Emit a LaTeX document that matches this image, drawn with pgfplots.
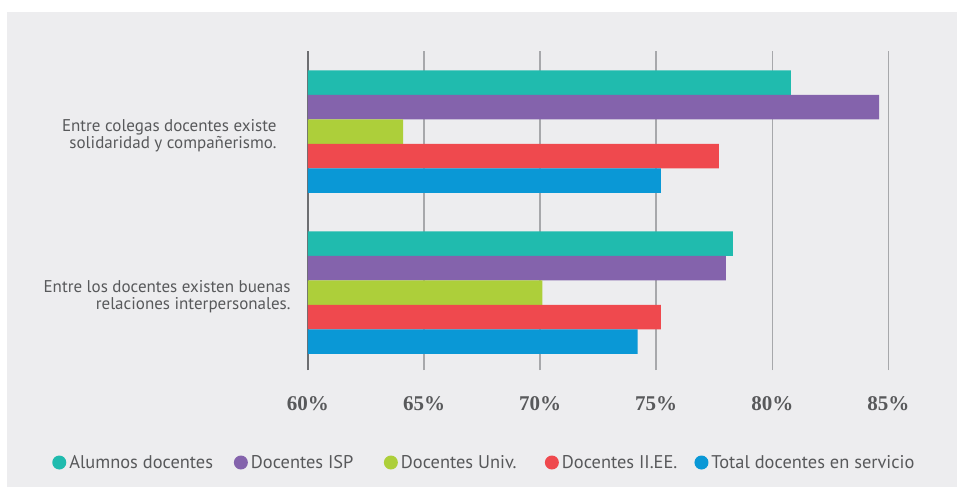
\documentclass[border=0pt]{standalone}
\usepackage{pgfplots}
\pgfplotsset{compat=1.18}
\usepackage{fontspec}
\setmainfont{PT Sans}
\newfontfamily\tickfont{Liberation Serif}
\definecolor{bgc}{HTML}{EDEDEF}
\definecolor{gridc}{HTML}{A7A8AB}
\definecolor{axisc}{HTML}{6D6E71}
\definecolor{txtc}{HTML}{58595B}
\definecolor{c1}{HTML}{20BBAE}
\definecolor{c2}{HTML}{8463AC}
\definecolor{c3}{HTML}{ADCF3A}
\definecolor{c4}{HTML}{EF494E}
\definecolor{c5}{HTML}{0A98D6}
\begin{document}
\begin{tikzpicture}[x=1pt,y=1pt]
\fill[white] (0,0) rectangle (957,487);
\fill[bgc] (7,0) rectangle (957,475);
\begin{axis}[
  at={(307.9pt,117pt)}, anchor=south west,
  scale only axis, width=603.7pt, height=319pt,
  xmin=60, xmax=86, ymin=-0.48, ymax=1.5,
  xbar, bar width=0.152,
  axis y line*=left, axis x line*=bottom,
  x axis line style={draw=none},
  y axis line style={draw=axisc, line width=1.8pt},
  xtick={60,65,70,75,80,85},
  xticklabels={60\%,65\%,70\%,75\%,80\%,85\%},
  xticklabel style={font=\tickfont\bfseries\fontsize{21}{24}\selectfont, text=txtc, anchor=base, yshift=-40pt, inner sep=0pt},
  ytick={0,1},
  yticklabels={{\begin{tabular}{@{}r@{}}Entre los docentes existen buenas\\relaciones interpersonales.\end{tabular}},
               {\begin{tabular}{@{}r@{\hspace{14pt}}}Entre colegas docentes existe\\solidaridad y compañerismo.\end{tabular}}},
  yticklabel style={font=\fontsize{17}{15}\selectfont, text=txtc, anchor=east, inner sep=0pt, xshift=-17.2pt, yshift=-4.7pt},
  major tick length=0pt,
  xmajorgrids, grid style={gridc, line width=1.5pt},
  legend columns=5,
  legend cell align=left,
  legend image code/.code={\fill[#1] (7pt,0pt) circle (7pt);},
  legend style={at={(axis description cs:-0.4234,-0.29)}, anchor=west, draw=none, fill=none, inner sep=0pt, outer sep=0pt,
    nodes={inner sep=0pt, font=\fontsize{18.4}{21}\selectfont, text=txtc},
    /tikz/every even column/.append style={column sep=0pt},
    /tikz/every odd column/.append style={column sep=0pt}},
]
\addplot[fill=c1, draw=none, bar shift=0.304] coordinates {(80.8,1) (78.3,0)};
\addplot[fill=c2, draw=none, bar shift=0.152] coordinates {(84.6,1) (78.0,0)};
\addplot[fill=c3, draw=none, bar shift=0] coordinates {(64.1,1) (70.1,0)};
\addplot[fill=c4, draw=none, bar shift=-0.152] coordinates {(77.7,1) (75.2,0)};
\addplot[fill=c5, draw=none, bar shift=-0.304] coordinates {(75.2,1) (74.2,0)};
\legend{{\makebox[167.6pt][l]{\hspace*{3pt}Alumnos docentes}},
        {\makebox[136pt][l]{\hspace*{3pt}Docentes ISP}},
        {\makebox[147pt][l]{\hspace*{3pt}Docentes Univ.}},
        {\makebox[135.6pt][l]{\hspace*{3pt}Docentes II.EE.}},
        {\hspace*{3pt}Total docentes en servicio}}
\end{axis}
\end{tikzpicture}
\end{document}
